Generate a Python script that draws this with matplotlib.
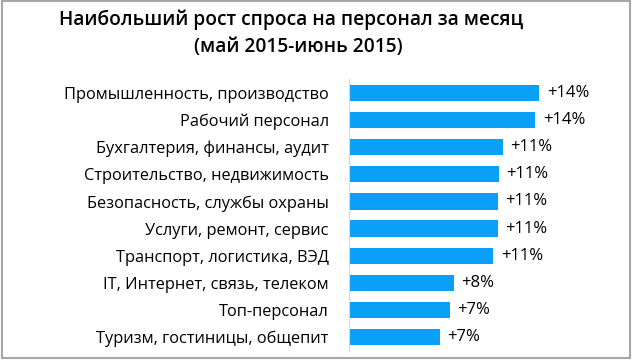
import matplotlib.pyplot as plt
from matplotlib.patches import Rectangle

plt.rcParams['font.family'] = ['Open Sans', 'DejaVu Sans']

categories = ['Промышленность, производство', 'Рабочий персонал',
              'Бухгалтерия, финансы, аудит', 'Строительство, недвижимость',
              'Безопасность, службы охраны', 'Услуги, ремонт, сервис',
              'Транспорт, логистика, ВЭД', 'IT, Интернет, связь, телеком',
              'Топ-персонал', 'Туризм, гостиницы, общепит']
values = [14.0, 13.7, 11.3, 11.0, 10.95, 10.95, 10.6, 7.7, 7.4, 6.7]
labels = ['+14%', '+14%', '+11%', '+11%', '+11%', '+11%', '+11%', '+8%', '+7%', '+7%']

fig = plt.figure(figsize=(6.33, 3.61), dpi=100)
ax = fig.add_axes([349 / 633, 1 - 350.5 / 361, 271 / 633, 271 / 361])

pos = list(range(len(categories)))
ax.barh(pos, values, height=0.6, color='#0aa0f8')
ax.set_ylim(len(categories) - 0.5, -0.5)
ax.set_xlim(0, 271 / 13.6)

for p, v, lab in zip(pos, values, labels):
    ax.text(v + 0.55, p, lab, va='center', ha='left', fontsize=12, color='black')

ax.set_yticks(pos)
ax.set_yticklabels(categories, fontsize=11.8)
ax.tick_params(axis='y', length=0, pad=14.5)
ax.set_xticks([])
for s in ['top', 'right', 'bottom']:
    ax.spines[s].set_visible(False)
ax.spines['left'].set_color('#d9d9d9')

fig.text(291 / 633, 1 - 20 / 361, 'Наибольший рост спроса на персонал за месяц',
         ha='center', va='center', fontsize=13.8, fontweight='semibold')
fig.text(298 / 633, 1 - 47 / 361, '(май 2015-июнь 2015)',
         ha='center', va='center', fontsize=13.8, fontweight='semibold')

fig.patches.append(Rectangle((2 / 633, 1 - 358 / 361), 628 / 633, 357 / 361,
                             transform=fig.transFigure, fill=False,
                             edgecolor='#a6a6a6', linewidth=1.5))

fig.savefig('out.png', dpi=100)
